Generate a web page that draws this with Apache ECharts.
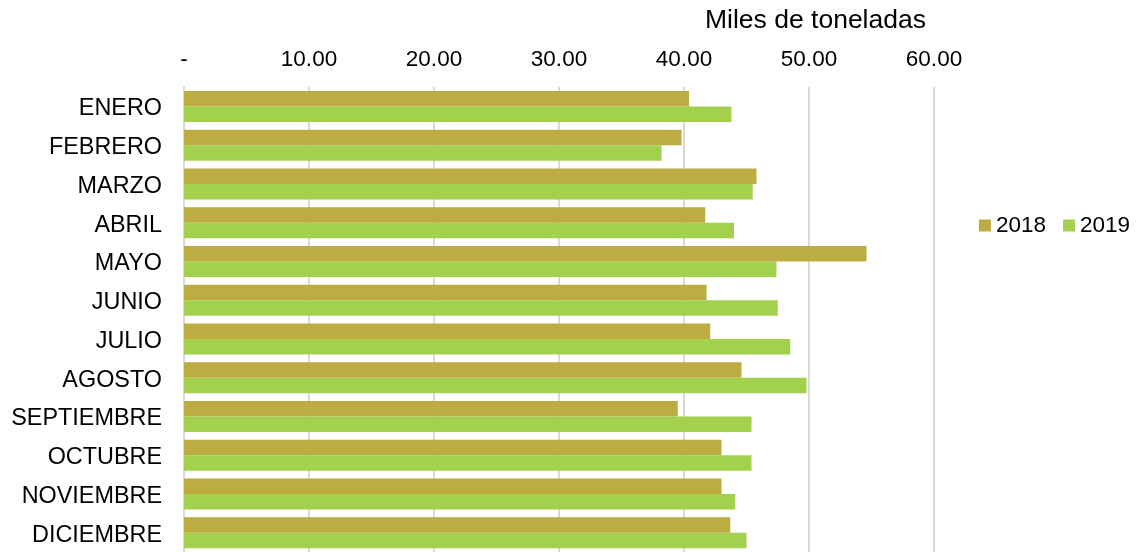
<!DOCTYPE html>
<html>
<head>
<meta charset="utf-8">
<script src="https://cdn.jsdelivr.net/npm/echarts@6/dist/echarts.min.js"></script>
<style>html,body{margin:0;padding:0;background:#fff}#c{width:1138px;height:552px}</style>
</head>
<body>
<div id="c"></div>
<script>
const categories = ['ENERO','FEBRERO','MARZO','ABRIL','MAYO','JUNIO','JULIO','AGOSTO','SEPTIEMBRE','OCTUBRE','NOVIEMBRE','DICIEMBRE'];
const values2018 = [40.4, 39.8, 45.8, 41.7, 54.6, 41.8, 42.1, 44.6, 39.5, 43.0, 43.0, 43.7];
const values2019 = [43.8, 38.2, 45.5, 44.0, 47.4, 47.5, 48.5, 49.8, 45.4, 45.4, 44.1, 45.0];
const axisName = 'Miles de toneladas';

const font = 'Liberation Sans, Arial, sans-serif';
const chart = echarts.init(document.getElementById('c'));
chart.setOption({
  animation: false,
  textStyle: {fontFamily: font},
  grid: {left: 184, width: 750, top: 87, height: 468},
  legend: {
    right: 3, top: 209, itemWidth: 12, itemHeight: 12, itemGap: 17,
    icon: 'rect',
    textStyle: {fontSize: 22.5, color: '#000', fontFamily: font},
    data: ['2018', '2019']
  },
  graphic: [{
    type: 'text', left: 705, top: 7,
    style: {text: axisName, fontSize: 26.5, fill: '#000', fontFamily: font}
  }],
  xAxis: {
    type: 'value', position: 'top', min: 0, max: 60, interval: 10,
    axisLine: {show: false}, axisTick: {show: false},
    splitLine: {lineStyle: {color: '#D9D9D9', width: 2}},
    axisLabel: {fontSize: 22.5, color: '#000', margin: 16, fontFamily: font,
      formatter: v => v === 0 ? '-' : v.toFixed(2)}
  },
  yAxis: {
    type: 'category', data: categories, inverse: true,
    axisLine: {show: true, lineStyle: {color: '#D9D9D9', width: 2}},
    axisTick: {show: false},
    axisLabel: {color: '#000', margin: 22, fontFamily: font,
      formatter: v => '{a|' + v + '}',
      rich: {a: {fontSize: 23.4, color: '#000', fontFamily: font, lineHeight: 24, padding: [5, 0, 0, 0]}}}
  },
  series: [
    {name: '2018', type: 'bar', data: values2018, barGap: '0%', barCategoryGap: '20%',
     itemStyle: {color: '#BCAC42'}},
    {name: '2019', type: 'bar', data: values2019, barGap: '0%', barCategoryGap: '20%',
     itemStyle: {color: '#A3D04D'}}
  ]
});
</script>
</body>
</html>
